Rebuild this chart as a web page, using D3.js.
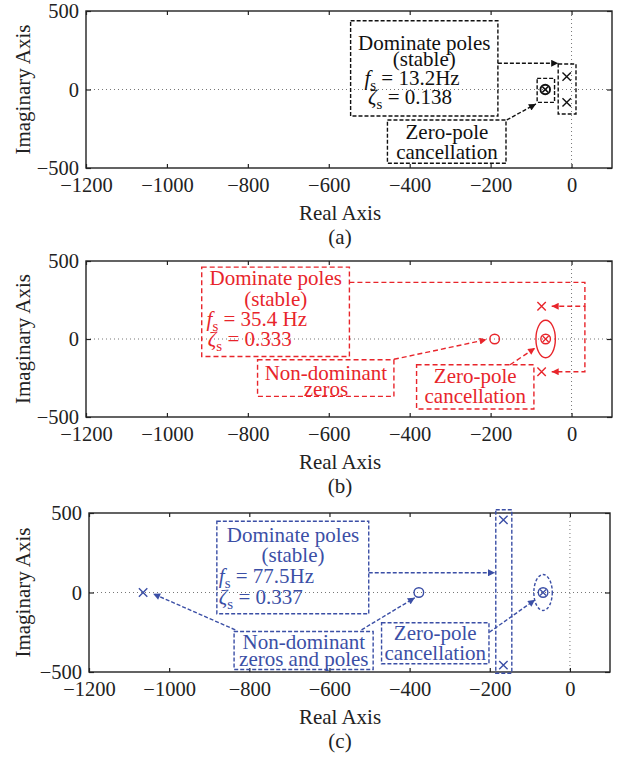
<!DOCTYPE html>
<html>
<head>
<meta charset="utf-8">
<script src="https://cdn.jsdelivr.net/npm/d3@7"></script>
<style>
  html, body { margin: 0; padding: 0; background: #fff; }
  svg { display: block; font-family: "Liberation Serif", "Times New Roman", serif; }
</style>
</head>
<body>
<svg id="chart" width="626" height="760"></svg>
<script>
// Axis set-up shared by the three root-locus panels
const xDomain = [-1200, 100];
const yDomain = [-500, 500];
const xTicks = [-1200, -1000, -800, -600, -400, -200, 0];
const yTicks = [-500, 0, 500];
const captions = ["(a)", "(b)", "(c)"];

// Pole / zero locations [real, imaginary] for each panel
const polesA = [[-12, 82], [-12, -82]];
const cancelA = [[-65, 0]];

const polesB = [[-74, 210], [-74, -210]];
const zerosB = [[-190, 0]];
const cancelB = [[-64, 0]];

const polesC = [[-166, 457], [-166, -457], [-1065, 0]];
const zerosC = [[-377, 0]];
const cancelC = [[-67, 0]];

// Dominant-mode figures quoted in the annotations
const fsText = ["13.2Hz", "35.4 Hz", "77.5Hz"];
const zetaText = ["0.138", "0.333", "0.337"];

const svg = d3.select("#chart");
const defs = svg.append("defs");

function arrowMarker(id, color) {
  defs.append("marker")
    .attr("id", id).attr("viewBox", "0 0 10 10")
    .attr("refX", 10).attr("refY", 5)
    .attr("markerWidth", 9).attr("markerHeight", 7)
    .attr("markerUnits", "userSpaceOnUse")
    .attr("orient", "auto")
    .append("path").attr("d", "M0,0 L10,5 L0,10 Z").attr("fill", color);
}

function panel(cfg) {
  const g = svg.append("g");
  const x = d3.scaleLinear().domain(xDomain).range([cfg.left, cfg.right]);
  const y = d3.scaleLinear().domain(yDomain).range([cfg.bottom, cfg.top]);
  const c = cfg.color;
  arrowMarker("arr-" + cfg.id, c);

  // zero reference lines
  g.append("line").attr("x1", cfg.left).attr("x2", cfg.right)
    .attr("y1", y(0)).attr("y2", y(0))
    .attr("stroke", "#777").attr("stroke-width", 1).attr("stroke-dasharray", "1,3");
  g.append("line").attr("x1", x(0)).attr("x2", x(0))
    .attr("y1", cfg.top).attr("y2", cfg.bottom)
    .attr("stroke", "#777").attr("stroke-width", 1).attr("stroke-dasharray", "1,3");

  // axes with inward ticks
  const axStyle = sel => {
    sel.select(".domain").remove();
    sel.selectAll(".tick line").attr("stroke", "#222").attr("stroke-width", 1.2);
    sel.selectAll(".tick text").attr("font-size", "20.5px").attr("fill", "#222")
      .attr("font-family", "Liberation Serif, serif");
  };
  const fmt = d => d < 0 ? "\u2212" + Math.abs(d) : String(d);
  g.append("g").attr("transform", `translate(0,${cfg.bottom})`)
    .call(d3.axisBottom(x).tickValues(xTicks).tickSizeInner(-4).tickSizeOuter(0)
      .tickPadding(9.5).tickFormat(fmt)).call(axStyle);
  g.append("g").attr("transform", `translate(0,${cfg.top})`)
    .call(d3.axisTop(x).tickValues(xTicks).tickSizeInner(-4).tickSizeOuter(0)
      .tickFormat("")).call(axStyle);
  g.append("g").attr("transform", `translate(${cfg.left},0)`)
    .call(d3.axisLeft(y).tickValues(yTicks).tickSizeInner(-5).tickSizeOuter(0)
      .tickPadding(7).tickFormat(fmt)).call(axStyle);
  g.append("g").attr("transform", `translate(${cfg.right},0)`)
    .call(d3.axisRight(y).tickValues(yTicks).tickSizeInner(-5).tickSizeOuter(0)
      .tickFormat("")).call(axStyle);

  g.append("rect").attr("x", cfg.left).attr("y", cfg.top)
    .attr("width", cfg.right - cfg.left).attr("height", cfg.bottom - cfg.top)
    .attr("fill", "none").attr("stroke", "#222").attr("stroke-width", 1.4);

  // axis titles and caption
  g.append("text").attr("x", 340).attr("y", cfg.bottom + 52)
    .attr("text-anchor", "middle").attr("font-size", "21px").attr("fill", "#222").text("Real Axis");
  g.append("text").attr("x", 340).attr("y", cfg.bottom + 76)
    .attr("text-anchor", "middle").attr("font-size", "21px").attr("fill", "#222").text(cfg.caption);
  const ym = (cfg.top + cfg.bottom) / 2;
  g.append("text").attr("transform", `translate(30,${ym}) rotate(-90)`)
    .attr("text-anchor", "middle").attr("font-size", "21px").attr("fill", "#222").text("Imaginary Axis");

  // mark helpers
  const cross = (cx, cy, h) => `M${cx - h},${cy - h}L${cx + h},${cy + h}M${cx - h},${cy + h}L${cx + h},${cy - h}`;

  g.selectAll(".pole").data(cfg.poles).join("path")
    .attr("d", d => cross(x(d[0]), y(d[1]), 4.2))
    .attr("stroke", c).attr("stroke-width", 1.4).attr("fill", "none");

  g.selectAll(".zero").data(cfg.zeros).join("circle")
    .attr("cx", d => x(d[0])).attr("cy", d => y(d[1])).attr("r", 4.8)
    .attr("stroke", c).attr("stroke-width", 1.4).attr("fill", "none");

  const cz = g.selectAll(".cancel").data(cfg.cancel).join("g");
  cz.append("circle").attr("cx", d => x(d[0])).attr("cy", d => y(d[1])).attr("r", 4.8)
    .attr("stroke", c).attr("stroke-width", cfg.cancelWidth).attr("fill", "none");
  cz.append("path").attr("d", d => cross(x(d[0]), y(d[1]), 3.0))
    .attr("stroke", c).attr("stroke-width", cfg.cancelWidth * 0.9).attr("fill", "none");

  // annotation helpers (coordinates in axis units)
  const dash = cfg.dash;
  const box = (x0, x1, y0, y1) => g.append("rect")
    .attr("x", x(x0)).attr("y", y(y0)).attr("width", x(x1) - x(x0)).attr("height", y(y1) - y(y0))
    .attr("fill", "none").attr("stroke", c).attr("stroke-width", 1.4).attr("stroke-dasharray", dash);
  const line = (pts, arrow) => {
    const p = g.append("path").attr("d", d3.line()(pts.map(q => [x(q[0]), y(q[1])])))
      .attr("fill", "none").attr("stroke", c).attr("stroke-width", 1.4).attr("stroke-dasharray", dash);
    if (arrow) p.attr("marker-end", `url(#arr-${cfg.id})`);
  };
  // one text block per box; each line: {x, y, text, anchor, sym}
  const block = lines => {
    const t = g.append("text").attr("font-size", "21px").attr("fill", c);
    lines.forEach(l => {
      const base = y(l.y) + 6.5;
      if (l.sym) {
        t.append("tspan").attr("x", x(l.x)).attr("y", base).attr("text-anchor", "start")
          .attr("font-style", "italic").text(l.sym);
        t.append("tspan").attr("y", base + 5).attr("font-size", "15px").text("s");
        t.append("tspan").attr("y", base).text(l.text);
      } else {
        t.append("tspan").attr("x", x(l.x)).attr("y", base)
          .attr("text-anchor", l.anchor || "middle").text(l.text);
      }
    });
  };
  const ellipse = (cx, cy, rx, ry, dashed) => g.append("ellipse")
    .attr("cx", x(cx)).attr("cy", y(cy))
    .attr("rx", x(cx + rx) - x(cx)).attr("ry", y(cy) - y(cy + ry))
    .attr("fill", "none").attr("stroke", c).attr("stroke-width", 1.4)
    .attr("stroke-dasharray", dashed ? "3,2" : null);

  cfg.annotate({ box, line, block, ellipse });
}

panel({
  id: "a", caption: captions[0], left: 86, right: 612, top: 11, bottom: 168,
  color: "#111", dash: "4,2", cancelWidth: 1.9,
  poles: polesA, zeros: [], cancel: cancelA,
  annotate: ({ box, line, block }) => {
    box(-546, -182, 438, -169);
    block([
      { x: -364, y: 294, text: "Dominate poles" },
      { x: -364, y: 188, text: "(stable)" },
      { x: -512, y: 73, sym: "f", text: " = " + fsText[0] },
      { x: -503, y: -48, sym: "\u03B6", text: " = " + zetaText[0] }
    ]);
    box(-33, 11, 162, -156);
    box(-85, -42, 71, -82);
    line([[-182, 167], [-33, 167]], true);
    box(-455, -162, -194, -470);
    block([
      { x: -308, y: -277, text: "Zero-pole" },
      { x: -308, y: -404, text: "cancellation" }
    ]);
    line([[-160, -194], [-88, -92]], true);
  }
});

panel({
  id: "b", caption: captions[1], left: 86, right: 612, top: 261, bottom: 417,
  color: "#e8252b", dash: "5,3", cancelWidth: 1.4,
  poles: polesB, zeros: zerosB, cancel: cancelB,
  annotate: ({ box, line, block, ellipse }) => {
    box(-914, -549, 461, -112);
    block([
      { x: -731, y: 385, text: "Dominate poles" },
      { x: -731, y: 256, text: "(stable)" },
      { x: -902, y: 128, sym: "f", text: " = " + fsText[1] },
      { x: -899, y: 0, sym: "\u03B6", text: " = " + zetaText[1] }
    ]);
    line([[-549, 363], [33, 363], [33, 210], [-49, 210]], true);
    line([[33, 210], [33, -210], [-49, -210]], true);
    box(-776, -439, -133, -368);
    block([
      { x: -607, y: -219, text: "Non-dominant" },
      { x: -607, y: -325, text: "zeros" }
    ]);
    line([[-439, -130], [-210, -4]], true);
    box(-383, -93, -165, -449);
    block([
      { x: -238, y: -240, text: "Zero-pole" },
      { x: -238, y: -369, text: "cancellation" }
    ]);
    line([[-152, -165], [-90, -58]], true);
    ellipse(-64, 0, 24, 120, false);
  }
});

panel({
  id: "c", caption: captions[2], left: 89, right: 610, top: 513, bottom: 672,
  color: "#3b4fa6", dash: "4,2", cancelWidth: 1.4,
  poles: polesC, zeros: zerosC, cancel: cancelC,
  annotate: ({ box, line, block, ellipse }) => {
    box(-881, -502, 448, -134);
    block([
      { x: -691, y: 358, text: "Dominate poles" },
      { x: -691, y: 233, text: "(stable)" },
      { x: -876, y: 101, sym: "f", text: " = " + fsText[2] },
      { x: -876, y: -33, sym: "\u03B6", text: " = " + zetaText[2] }
    ]);
    line([[-502, 124], [-187, 124]], true);
    box(-185, -145, 520, -508);
    box(-838, -491, -245, -484);
    block([
      { x: -664, y: -313, text: "Non-dominant" },
      { x: -664, y: -423, text: "zeros and poles" }
    ]);
    line([[-835, -235], [-1040, -8]], true);
    line([[-520, -235], [-387, -33]], true);
    box(-470, -202, -190, -448);
    block([
      { x: -336, y: -260, text: "Zero-pole" },
      { x: -336, y: -382, text: "cancellation" }
    ]);
    line([[-201, -250], [-87, -46]], true);
    ellipse(-67, 0, 23, 113, true);
  }
});
</script>
</body>
</html>
